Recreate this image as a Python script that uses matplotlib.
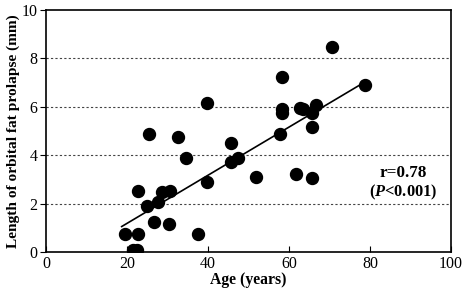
import matplotlib
matplotlib.use("Agg")
import matplotlib.pyplot as plt
import numpy as np

ages = [19.5, 22.8, 21.5, 22.5, 22.8, 24.9, 25.5, 26.7, 27.7, 28.7, 30.4, 30.6,
        32.6, 34.7, 37.5, 39.7, 39.7, 45.7, 45.7, 47.3, 51.8, 57.8, 58.2, 58.4,
        58.4, 61.7, 62.7, 63.5, 65.6, 65.6, 65.6, 66.7, 70.5, 78.8]
prolapse = [0.76, 0.76, 0.08, 0.08, 2.53, 1.91, 4.88, 1.23, 2.05, 2.47, 1.16, 2.53,
            4.77, 3.87, 0.76, 2.88, 6.17, 4.52, 3.73, 3.88, 3.08, 4.88, 7.24, 5.90,
            5.75, 3.22, 5.94, 5.92, 5.73, 5.18, 3.07, 6.07, 8.48, 6.88]
fit_x = [18.7, 77.8]
fit_slope = 0.0995
fit_intercept = -0.81
x_ticks = [0, 20, 40, 60, 80, 100]
y_ticks = [0, 2, 4, 6, 8, 10]
grid_levels = [2, 4, 6, 8]

plt.rcParams['font.family'] = ['Liberation Serif', 'DejaVu Serif']
plt.rcParams['mathtext.fontset'] = 'custom'
plt.rcParams['mathtext.rm'] = 'Liberation Serif:bold'
plt.rcParams['mathtext.it'] = 'Liberation Serif:italic:bold'
plt.rcParams['mathtext.bf'] = 'Liberation Serif:bold'

fig = plt.figure(figsize=(4.64, 2.94), dpi=100)
ax = fig.add_axes([0.099, 0.143, 0.873, 0.823])

for g in grid_levels:
    ax.axhline(g, color='#444444', lw=0.8, ls=(0, (2, 2)), zorder=1)

fy = [fit_slope * x + fit_intercept for x in fit_x]
ax.plot(fit_x, fy, color='black', lw=1.2, zorder=2)
ax.plot(ages, prolapse, 'o', color='black', markersize=8.6, zorder=3)

ax.set_xlim(0, 100)
ax.set_ylim(0, 10)
ax.set_xticks(x_ticks)
ax.set_yticks(y_ticks)
ax.tick_params(axis='x', direction='in', length=4, labelsize=11.5, pad=3)
ax.tick_params(axis='y', direction='out', length=4, labelsize=11.5, pad=2)
for s in ax.spines.values():
    s.set_linewidth(1.2)

ax.set_xlabel('Age (years)', fontsize=11.3, fontweight='bold', labelpad=0)
ax.set_ylabel('Length of orbital fat prolapse (mm)', fontsize=11.1, fontweight='bold', labelpad=1)

ax.text(88.2, 3.26, 'r=0.78', ha='center', va='center', fontsize=12.3, fontweight='bold')
ax.text(88.2, 2.45, r'($\mathit{P}$<0.001)', ha='center', va='center', fontsize=11.8, fontweight='bold')

fig.savefig('out.png', dpi=100)
